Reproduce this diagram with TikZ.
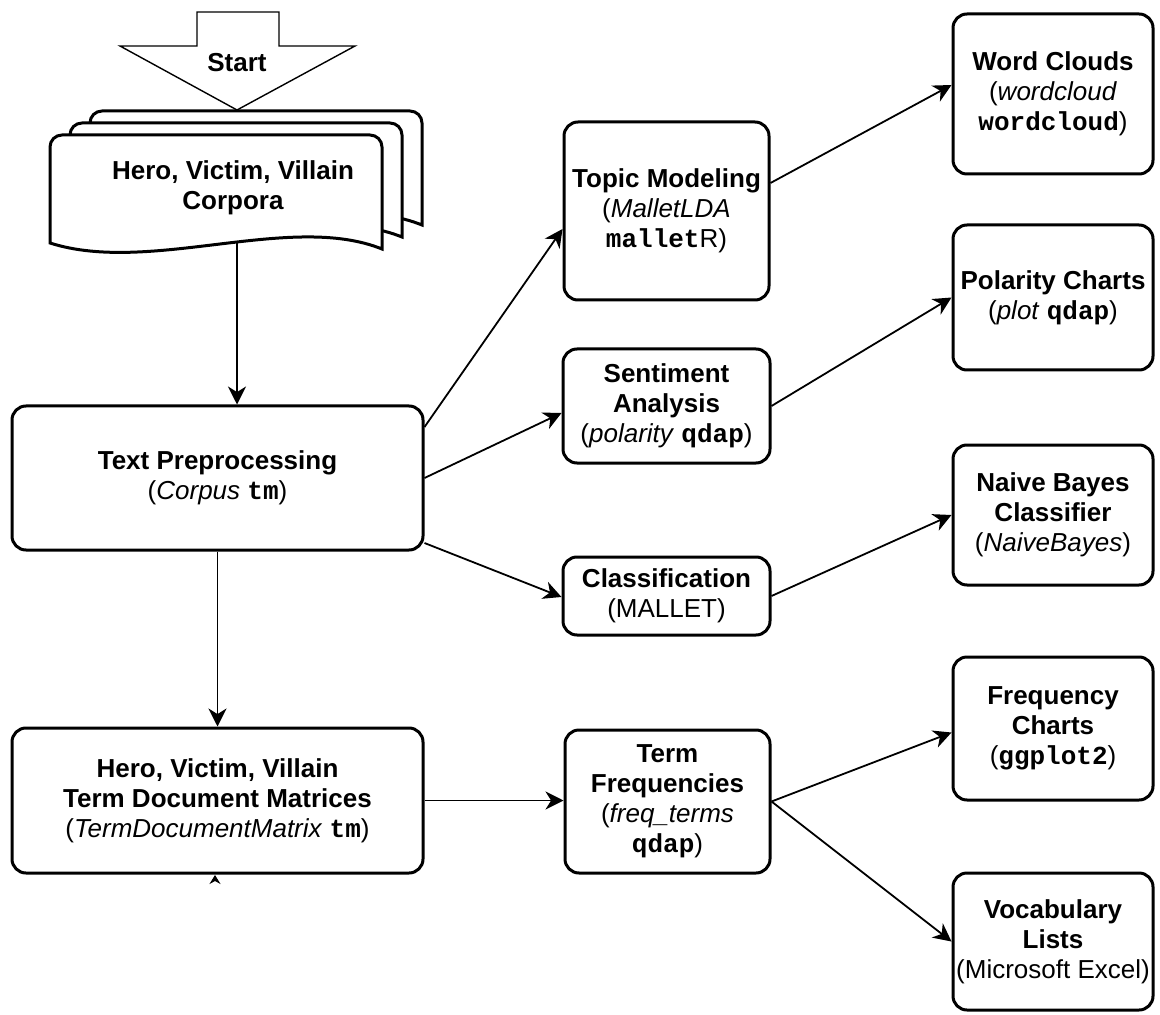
\documentclass[tikz,border=0pt]{standalone}
\usepackage{fontspec}
\setmainfont{Liberation Sans}
\setmonofont{Liberation Mono}
\usetikzlibrary{arrows.meta, positioning}

\begin{document}
\begin{tikzpicture}[x=0.5pt, y=-0.5pt,
        box/.style={draw, rectangle, rounded corners=7pt, line width=1.5pt, align=center, inner sep=1pt, font=\fontsize{13}{15}\selectfont},
        arr/.style={-{Stealth[length=9pt, width=9pt, inset=2.8pt]}, line width=0.9pt},
        docline/.style={draw, fill=white, line width=1.5pt}]
        \useasboundingbox (0,0) rectangle (1160,1015);

        \draw[line width=0.7pt] (197,12) -- (279,12) -- (279,46) -- (355,46) -- (237,110) -- (120,46) -- (197,46) -- cycle;
        \node (start) at (237,63) {\fontsize{13}{15}\selectfont\bfseries Start};

        \foreach \dx/\dy in {40/-24, 20/-12, 0/0}
            \draw[docline, shift={(\dx,\dy)}] (50,243) [rounded corners=6pt] -- (50,135) -- (382,135) [sharp corners] -- (382,249) .. controls (290,212) and (150,275) .. (50,243) -- cycle;
        \node (corpora) [align=center, font=\fontsize{13}{15}\selectfont\bfseries] at (233,188) {Hero, Victim, Villain\\Corpora};
        \coordinate (docbot) at (237,241);

        \node (prep) [box, minimum width=205.5pt, minimum height=72pt] at (217.5,478) {\textbf{Text Preprocessing}\\(\textit{Corpus} \texttt{\bfseries tm})};
        \node (tdm) [box, minimum width=205.5pt, minimum height=72.5pt] at (217.5,800.5) {\textbf{Hero, Victim, Villain}\\\textbf{Term Document Matrices}\\(\textit{TermDocumentMatrix} \texttt{\bfseries tm})};

        \node (topic) [box, minimum width=102.5pt, minimum height=89pt] at (666.5,211) {\textbf{Topic Modeling}\\(\textit{MalletLDA}\\\texttt{\bfseries mallet}R)};
        \node (senti) [box, minimum width=103.5pt, minimum height=57pt] at (666.5,406) {\textbf{Sentiment}\\\textbf{Analysis}\\(\textit{polarity} \texttt{\bfseries qdap})};
        \node (classify) [box, minimum width=103.5pt, minimum height=39pt] at (666.5,596) {\textbf{Classification}\\(MALLET)};
        \node (termfreq) [box, minimum width=102.5pt, minimum height=71.5pt] at (667.5,801.5) {\textbf{Term}\\\textbf{Frequencies}\\(\textit{freq\_terms}\\\texttt{\bfseries qdap})};

        \node (clouds) [box, minimum width=100pt, minimum height=80pt] at (1053,94) {\textbf{Word Clouds}\\(\textit{wordcloud}\\\texttt{\bfseries wordcloud})};
        \node (polarity) [box, minimum width=100pt, minimum height=72.5pt] at (1053,297.5) {\textbf{Polarity Charts}\\(\textit{plot} \texttt{\bfseries qdap})};
        \node (bayes) [box, minimum width=100pt, minimum height=70pt] at (1053,515) {\textbf{Naive Bayes}\\\textbf{Classifier}\\(\textit{NaiveBayes})};
        \node (freqcharts) [box, minimum width=100pt, minimum height=71.5pt] at (1053,728.5) {\textbf{Frequency}\\\textbf{Charts}\\(\texttt{\bfseries ggplot2})};
        \node (vocab) [box, minimum width=100pt, minimum height=68.5pt] at (1053,941.5) {\textbf{Vocabulary}\\\textbf{Lists}\\(Microsoft Excel)};

        \coordinate (stubA) at (215,886);
        \coordinate (stubB) at (215,875);

        \draw[arr] (docbot) -- (docbot |- prep.north);
        \draw[arr] (prep.south) -- (tdm.north);
        \draw[arr] (tdm.east) -- (tdm.east -| termfreq.west);
        \draw[arr] ([yshift=25.5pt]prep.east) -- ([yshift=-9pt]topic.west);
        \draw[arr] (prep.east) -- ([yshift=-3.5pt]senti.west);
        \draw[arr] ([yshift=-32.5pt]prep.east) -- ([yshift=-0.5pt]classify.west);
        \draw[arr] ([yshift=14pt]topic.east) -- ([yshift=4.5pt]clouds.west);
        \draw[arr] (senti.east) -- (polarity.west);
        \draw[arr] (classify.east) -- (bayes.west);
        \draw[arr] (termfreq.east) -- ([yshift=-2pt]freqcharts.west);
        \draw[arr] (termfreq.east) -- (vocab.west);
        \draw[-{Stealth[length=4.5pt, width=5.5pt, inset=1.5pt]}, line width=0.6pt, shorten <=4.4pt] (stubA) -- (stubB);
    \end{tikzpicture}
\end{document}
